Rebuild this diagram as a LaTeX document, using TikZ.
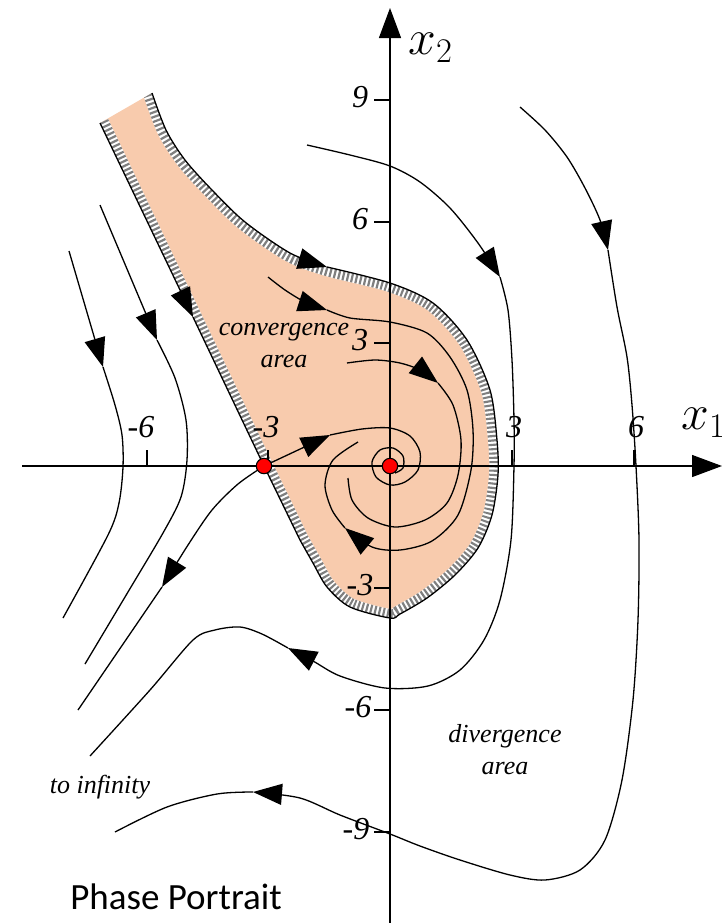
\documentclass[tikz,border=0pt]{standalone}
\usepackage{fontspec}
\setmainfont{Liberation Serif}
\newfontfamily\portraitfont{Carlito}
\usepackage{tikz}
\usepackage{xcolor}
\usetikzlibrary{arrows.meta}
\definecolor{convfill}{HTML}{F8CBAD}
\definecolor{hatchgray}{HTML}{7F7F7F}
\definecolor{eqred}{HTML}{FF0000}
\tikzset{
  axisline/.style={line width=0.65pt},
  axisarr/.style={axisline,-{Triangle[length=15pt,width=11pt]}},
  traj/.style={line width=0.65pt},
  trajarr/.style={traj,-{Triangle[length=14.5pt,width=10.5pt]}},
  rimwhite/.style={line width=9pt,white},
  rimhatch/.style={line width=9pt,hatchgray,dash pattern=on 1.1pt off 1.1pt},
  eqpoint/.style={circle,draw=black,fill=eqred,line width=0.55pt,
                  inner sep=0pt,minimum size=7.7pt},
  ticklabel/.style={font=\fontsize{16}{19}\selectfont\itshape,inner sep=0pt},
  arealabel/.style={font=\fontsize{13}{16}\selectfont\itshape,align=center,inner sep=0pt},
  axislabel/.style={font=\fontsize{23}{27}\selectfont,inner sep=0pt},
  titlelabel/.style={font=\fontsize{18.5}{22}\selectfont\portraitfont,inner sep=0pt}
}
% rim of the convergence area (top edge left open)
\newcommand\convrim{plot[smooth] coordinates {(152,93) (166,130) (185,160)
  (212,190) (245,222) (290,253) (327,267) (390,283) (433,303) (467,340) (490,390)
  (497,440) (498,475) (492,515) (478,548) (455,575) (427,598) (400,614)
  (390,618) (350,607) (327,587) (313,563) (300,540)} -- (264,466) -- (100,123)}

\begin{document}
\begin{tikzpicture}[x=0.5pt,y=-0.5pt,>=Latex]
  \useasboundingbox (0,0) rectangle (722,923);
  \coordinate (sp) at (264,466);
  \coordinate (fp) at (390,466);
  % convergence area
  \fill[convfill] \convrim -- cycle;
  \begin{scope}
    \clip \convrim -- cycle;
    \draw[rimwhite] \convrim;
    \draw[rimhatch] \convrim;
  \end{scope}
  \draw[trajarr] plot[smooth] coordinates {(152,93) (166,130) (185,160) (212,190) (245,222) (290,253) (327,267)};
  \draw[traj] plot[smooth] coordinates {(327,267) (390,283) (433,303) (467,340) (490,390)
    (497,440) (498,475) (492,515) (478,548) (455,575) (427,598) (400,614)
    (390,618) (350,607) (327,587) (313,563) (300,540)} -- (sp);
  \draw[trajarr] (100,123) -- (193,317);
  \draw[traj] (193,317) -- (sp);
  % axes
  \draw[axisarr] (22,466) -- (722,466);
  \draw[axisarr] (390,923) -- (390,8);
  \foreach \t/\lx/\lab in {147/141/-6,268/266/-3,512/514/3,634/636/6}{
    \draw[axisline] (\t,450) -- (\t,466);
    \node[ticklabel] (xlab\lab) at (\lx,427) {\lab};
  }
  \foreach \t/\lx/\lab in {100/360/9,222/360/6,343/360/3,588/360/-3,710/358/-6,832/356/-9}{
    \draw[axisline] (374,\t) -- (390,\t);
    \node[ticklabel] (ylab\lab) at (\lx,\t-3) {\lab};
  }
  \node[axislabel,anchor=west] (xtwo) at (408,48) {$x_2$};
  \node[axislabel,anchor=west] (xone) at (681,423) {$x_1$};
  % flow lines on the left
  \draw[trajarr] (69,251) -- (103,367);
  \draw[traj] plot[smooth] coordinates {(103,367) (115,405) (122,435) (123,467) (119,503) (108,535) (63,618)};
  \draw[trajarr] (100,205) -- (157,340);
  \draw[traj] plot[smooth] coordinates {(157,340) (175,378) (186,420) (187,460) (181,497) (163,533) (125,597) (85,664)};
  \draw[trajarr] plot[smooth] coordinates {(sp) (238,484) (212,510) (188,545) (162,587)};
  \draw[traj] (162,587) -- (78,710);
  % spirals into the focus
  \draw[trajarr] (sp) -- (330,435);
  \draw[traj] plot[smooth] coordinates {(330,435) (362,429) (390,428) (410,436) (420,452)
    (418,470) (405,482) (390,485) (376,477) (372,462) (380,450) (393,448) (403,456) (403,468) (395,473)};
  \draw[trajarr] plot[smooth] coordinates {(347,363) (375,360) (400,363) (420,370) (438,383)};
  \draw[traj] plot[smooth] coordinates {(438,383) (453,405) (461,440) (458,475) (447,503)
    (425,520) (395,527) (368,518) (352,500) (348,478)};
  \draw[trajarr] plot[smooth] coordinates {(268,277) (285,290) (305,302) (327,310)};
  \draw[trajarr] plot[smooth] coordinates {(327,310) (350,318) (390,322) (427,333) (450,357)
    (467,390) (473,430) (471,470) (458,515) (432,541) (400,550) (372,547) (345,528)};
  \draw[traj] plot[smooth] coordinates {(345,528) (332,510) (325,485) (333,460) (358,442)};
  % divergence
  \draw[trajarr] plot[smooth] coordinates {(307,145) (350,155) (390,166) (420,182) (450,208) (478,243) (500,277)};
  \draw[trajarr] plot[smooth] coordinates {(500,277) (508,310) (512,360) (514,420) (514,466)
    (511,540) (500,600) (484,640) (460,670) (428,686) (385,688) (340,676) (313,661) (288,648)};
  \draw[traj] plot[smooth] coordinates {(288,648) (262,634) (240,627) (215,630) (193,640) (150,690) (90,756)};
  \draw[trajarr] plot[smooth] coordinates {(520,107) (545,130) (567,157) (585,188) (600,220) (608,250)};
  \draw[trajarr] plot[smooth] coordinates {(608,250) (617,307) (627,357) (632,405) (636,466)
    (639,540) (638,620) (633,700) (622,780) (605,840) (580,870) (545,880) (510,875)
    (460,860) (420,846) (390,834) (340,815) (300,798) (253,792)};
  \draw[traj] plot[smooth] coordinates {(253,792) (217,794) (167,807) (115,832)};
  % equilibria
  \node[eqpoint] (saddle) at (sp) {};
  \node[eqpoint] (focus) at (fp) {};
  % texts
  \node[arealabel] (conv) at (284,345) {convergence\\area};
  \node[arealabel] (div) at (505,750) {divergence\\area};
  \node[arealabel] (inf) at (100,787) {to infinity};
  \node[titlelabel] (title) at (176,897) {Phase Portrait};
\end{tikzpicture}
\end{document}
